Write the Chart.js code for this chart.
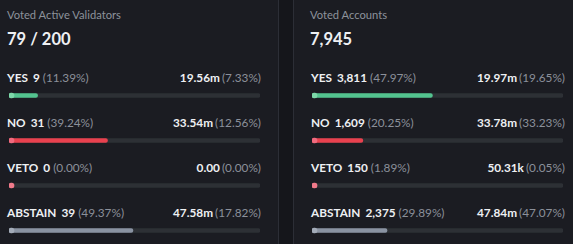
<!DOCTYPE html>
<html>
<head>
<meta charset="utf-8">
<script src="https://cdn.jsdelivr.net/npm/chart.js@4/dist/chart.umd.min.js"></script>
<style>
  html, body { margin:0; padding:0; }
  body { width:573px; height:244px; overflow:hidden; background:#15161b; position:relative; font-family:Lato, "Open Sans", sans-serif; }
  .panel { position:absolute; top:0; height:244px; background:#1b1c22; overflow:hidden; }
  #p0 { left:0; width:278px; border-right:1px solid #2c2e36; }
  #p1 { left:293px; width:279px; border-left:1px solid #2c2e36; }
  .title { position:absolute; top:8px; font-size:11.2px; line-height:14px; color:#8d929b; white-space:nowrap; }
  .total { position:absolute; top:29px; font-size:16.5px; line-height:20px; font-weight:700; color:#eef0f3; white-space:nowrap; }
  .row { position:absolute; font-size:11.8px; line-height:14px; white-space:nowrap; }
  .b { font-weight:700; color:#eef0f3; }
  .g { color:#8b909a; }
  .chartbox { position:absolute; top:73px; height:180px; }
</style>
</head>
<body>
<div class="panel" id="p0"></div>
<div class="panel" id="p1"></div>
<script>
// ---- data ----
const panelTitles = ["Voted Active Validators", "Voted Accounts"];
const panelTotals = ["79 / 200", "7,945"];
const categories = ["YES", "NO", "VETO", "ABSTAIN"];

const validatorCounts = ["9", "31", "0", "39"];
const validatorCountPct = [11.39, 39.24, 0.00, 49.37];
const validatorPower = ["19.56m", "33.54m", "0.00", "47.58m"];
const validatorPowerPct = [7.33, 12.56, 0.00, 17.82];

const accountCounts = ["3,811", "1,609", "150", "2,375"];
const accountCountPct = [47.97, 20.25, 1.89, 29.89];
const accountPower = ["19.97m", "33.78m", "50.31k", "47.84m"];
const accountPowerPct = [19.65, 33.23, 0.05, 47.07];

const trackMax = [100, 100, 100, 100];
const capStart = [0, 0, 0, 0];

// ---- styles ----
const fillColors = ["#53c38f", "#e9414f", "#f07585", "#8a93a2"];
const capColors = ["#7dd8a9", "#f06a7e", "#f07a8a", "#a3abb8"];
const trackColor = "#2d3035";

const panels = [
  { el: "p0", counts: validatorCounts, countPct: validatorCountPct, power: validatorPower, powerPct: validatorPowerPct, textLeft: 7, titleLeft: 7, rightEdge: 261, barLeft: 9 },
  { el: "p1", counts: accountCounts, countPct: accountCountPct, power: accountPower, powerPct: accountPowerPct, textLeft: 17, titleLeft: 16, rightEdge: 271, barLeft: 18 }
];

panels.forEach((p, pi) => {
  const root = document.getElementById(p.el);
  const t = document.createElement("div");
  t.className = "title"; t.style.left = p.titleLeft + "px"; t.textContent = panelTitles[pi];
  root.appendChild(t);
  const tot = document.createElement("div");
  tot.className = "total"; tot.style.left = p.titleLeft + "px"; tot.textContent = panelTotals[pi];
  root.appendChild(tot);

  categories.forEach((c, i) => {
    const top = 71 + 45 * i;
    const l = document.createElement("div");
    l.className = "row"; l.style.left = p.textLeft + "px"; l.style.top = top + "px";
    l.innerHTML = '<span class="b">' + c + '</span><span class="b" style="margin-left:5px">' + p.counts[i] +
      '</span><span class="g" style="margin-left:3px">(' + p.countPct[i].toFixed(2) + '%)</span>';
    root.appendChild(l);
    const r = document.createElement("div");
    r.className = "row"; r.style.right = (parseInt(getComputedStyle(root).width) - p.rightEdge) + "px"; r.style.top = top + "px";
    r.innerHTML = '<span class="b">' + p.power[i] + '</span><span class="g" style="margin-left:2px">(' + p.powerPct[i].toFixed(2) + '%)</span>';
    root.appendChild(r);
  });

  const box = document.createElement("div");
  box.className = "chartbox"; box.style.left = p.barLeft + "px"; box.style.width = "251px";
  const cv = document.createElement("canvas");
  cv.width = 251; cv.height = 180; cv.style.width = "251px"; cv.style.height = "180px";
  box.appendChild(cv); root.appendChild(box);

  new Chart(cv, {
    type: "bar",
    data: {
      labels: categories,
      datasets: [
        { data: capStart, backgroundColor: capColors, barThickness: 5, minBarLength: 5, borderRadius: 2.5, borderSkipped: false, grouped: false, order: 0 },
        { data: p.countPct, backgroundColor: fillColors, barThickness: 4, borderRadius: 2, borderSkipped: false, grouped: false, order: 1 },
        { data: trackMax, backgroundColor: trackColor, barThickness: 4, borderRadius: 2, borderSkipped: false, grouped: false, order: 2 }
      ]
    },
    options: {
      indexAxis: "y",
      responsive: false,
      animation: false,
      devicePixelRatio: 1,
      layout: { padding: 0 },
      plugins: { legend: { display: false }, tooltip: { enabled: false } },
      scales: {
        x: { min: 0, max: 100, display: false },
        y: { display: false }
      }
    }
  });
});
</script>
</body>
</html>
